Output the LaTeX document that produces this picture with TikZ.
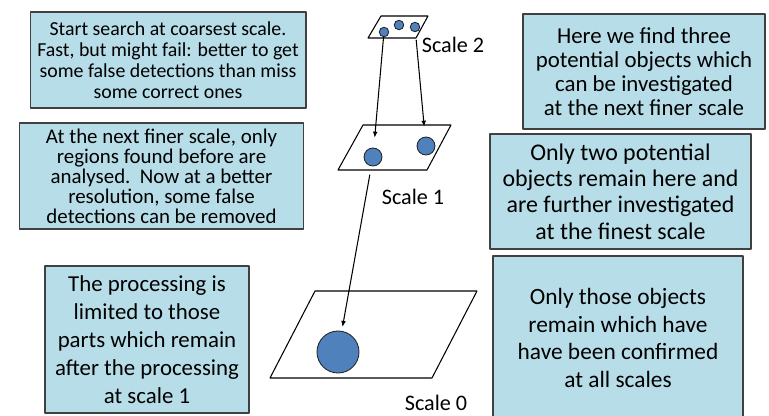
\documentclass[tikz,border=0pt]{standalone}
\usepackage{fontspec}
\setmainfont{Carlito}
\usetikzlibrary{arrows.meta}
\definecolor{notefill}{HTML}{B7DDE8}
\definecolor{blobfill}{HTML}{4F81BD}

\begin{document}
\begin{tikzpicture}[x=0.02cm,y=-0.02cm,>={Latex[length=3.4pt,width=2.8pt]},line cap=round,line join=round]
  \tikzset{
    note/.style={draw=black!75,line width=0.6pt,fill=notefill,align=center,inner sep=0pt},
    blob/.style={circle,draw=black!85,line width=0.5pt,fill=blobfill,inner sep=0pt},
    plane/.style={line width=0.6pt},
    scalelabel/.style={font=\fontsize{12.6}{15}\selectfont,inner sep=1pt}
  }
  \useasboundingbox (0,0) rectangle (769,416);
  % text boxes, left column
  \node[note,minimum width=5.52cm,minimum height=1.92cm,font=\fontsize{11.3}{11.9}\selectfont] (coarse) at (168,60)
    {Start search at coarsest scale.\\Fast, but might fail: better to get\\some false detections than miss\\some correct ones};
  \node[note,minimum width=5.7cm,minimum height=2.12cm,font=\fontsize{11.9}{11.4}\selectfont] (finer) at (161.5,176)
    {At the next finer scale, only\\regions found before are\\analysed.\ \ Now at a better\\resolution, some false\\detections can be removed};
  \node[note,minimum width=4.08cm,minimum height=2.94cm,font=\fontsize{13}{15.9}\selectfont] (limited) at (147,339.5)
    {The processing is\\limited to those\\parts which remain\\after the processing\\at scale 1};
  % text boxes, right column
  \node[note,minimum width=4.84cm,minimum height=2.3cm,font=\fontsize{13}{13.6}\selectfont] (three) at (644,71.5)
    {Here we find three\\potential objects which\\can be investigated\\at the next finer scale};
  \node[note,minimum width=5.22cm,minimum height=2.3cm,font=\fontsize{13.6}{15}\selectfont] (two) at (620.5,191.5)
    {Only two potential\\objects remain here and\\are further investigated\\at the finest scale};
  \node[note,minimum width=5cm,minimum height=3.28cm,font=\fontsize{13.3}{15.9}\selectfont] (confirmed) at (618,338)
    {Only those objects\\remain which have\\have been confirmed\\at all scales};

  % the three planes
  \draw[plane] (381,16) -- (428,16) -- (416,38) -- (368,38) -- cycle;
  \draw[plane] (363,125) -- (451,125) -- (427,170) -- (338,170) -- cycle;
  \draw[plane] (315,291) -- (477,291) -- (432,378) -- (270,378) -- cycle;

  % objects found at each scale
  \node[blob,minimum size=0.19cm] (c2a) at (384,32) {};
  \node[blob,minimum size=0.19cm] (c2b) at (399,25) {};
  \node[blob,minimum size=0.19cm] (c2c) at (415,27) {};
  \node[blob,minimum size=0.36cm] (c1a) at (373,157) {};
  \node[blob,minimum size=0.36cm] (c1b) at (426,146) {};
  \node[blob,minimum size=0.84cm] (c0) at (338,352) {};

  \node[scalelabel] (s2) at (453,45) {Scale 2};
  \node[scalelabel] (s1) at (413,197) {Scale 1};
  \node[scalelabel] (s0) at (436,403) {Scale 0};

  % search passed down to the finer scales
  \draw[->,line width=0.6pt,shorten >=5.7pt] (c2a) -- (c1a);
  \draw[->,line width=0.6pt,shorten <=4.5pt,shorten >=5.7pt] (c2c) -- (c1b);
  \draw[->,line width=0.6pt,shorten <=5pt,shorten >=2.3pt] (c1a) -- (c0);
\end{tikzpicture}
\end{document}
